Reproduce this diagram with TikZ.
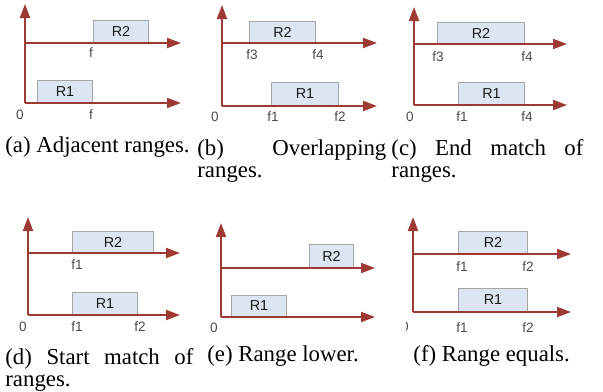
\documentclass[tikz,border=0pt]{standalone}
\usepackage{fontspec}
\setmainfont{Liberation Serif}
\newfontfamily\labelfont{Liberation Sans}
\usetikzlibrary{arrows.meta}
\definecolor{axisred}{RGB}{158,58,52}
\definecolor{boxfill}{RGB}{220,230,242}
\definecolor{boxline}{RGB}{166,166,166}

\begin{document}
\begin{tikzpicture}[x=0.5pt,y=-0.5pt,
    axis/.style={axisred,line width=1pt,-{Triangle[length=7pt,width=5pt]}},
    rangebox/.style={draw=boxline,fill=boxfill,line width=0.5pt,inner sep=0pt,
        anchor=south west,font=\labelfont\fontsize{7.2}{8}\selectfont,text=black!90},
    tick/.style={font=\labelfont\fontsize{6.8}{8}\selectfont,text=black!70,inner sep=0pt},
    subcap/.style={anchor=west,align=left,inner sep=0pt,
        font=\fontsize{11.4}{11.2}\selectfont}]
    \useasboundingbox (0,0) rectangle (603,391);
    % (a) adjacent
    \node[rangebox,minimum width=27.5pt,minimum height=11pt] (r2a) at (93,43) {R2};
    \node[rangebox,minimum width=27.5pt,minimum height=11pt] (r1a) at (37,103) {R1};
    \coordinate (oa) at (25,103);
    \coordinate (ta) at (25,4);
    \coordinate (ua) at (25,43);
    \coordinate (uea) at (181,43);
    \coordinate (lea) at (181,103);
    \draw[axis] (oa) -- (ta);
    \draw[axis] (ua) -- (uea);
    \draw[axis] (oa) -- (lea);
    \node[tick] (za) at (20,115) {0};
    \node[tick] (fa) at (91,115) {f};
    \node[tick] (fua) at (91,53) {f};
    % (b) overlapping
    \node[rangebox,minimum width=33pt,minimum height=10.5pt] (r2b) at (249,43) {R2};
    \node[rangebox,minimum width=33.5pt,minimum height=11.5pt] (r1b) at (271,106) {R1};
    \coordinate (ob) at (222,106);
    \coordinate (tb) at (222,5);
    \coordinate (ub) at (222,43);
    \coordinate (ueb) at (377,43);
    \coordinate (leb) at (377,106);
    \draw[axis] (ob) -- (tb);
    \draw[axis] (ub) -- (ueb);
    \draw[axis] (ob) -- (leb);
    \node[tick] (zb) at (215,117) {0};
    \node[tick] (f1b) at (273,117) {f1};
    \node[tick] (f2b) at (340,117) {f2};
    \node[tick] (f3b) at (252,55) {f3};
    \node[tick] (f4b) at (318,55) {f4};
    % (c) end match
    \node[rangebox,minimum width=43.5pt,minimum height=10.5pt] (r2c) at (437,44) {R2};
    \node[rangebox,minimum width=33pt,minimum height=11pt] (r1c) at (458,105) {R1};
    \coordinate (oc) at (414,105);
    \coordinate (tc) at (414,7);
    \coordinate (uc) at (414,44);
    \coordinate (uec) at (567,44);
    \coordinate (lec) at (567,105);
    \draw[axis] (oc) -- (tc);
    \draw[axis] (uc) -- (uec);
    \draw[axis] (oc) -- (lec);
    \node[tick] (zc) at (410,117) {0};
    \node[tick] (f1c) at (462,117) {f1};
    \node[tick] (f4c) at (527,117) {f4};
    \node[tick] (f3c) at (438,57) {f3};
    \node[tick] (f4uc) at (527,57) {f4};
    % (d) start match
    \node[rangebox,minimum width=40.5pt,minimum height=10.5pt] (r2d) at (72,253) {R2};
    \node[rangebox,minimum width=32.5pt,minimum height=11pt] (r1d) at (72,315) {R1};
    \coordinate (od) at (28,315);
    \coordinate (td) at (28,217);
    \coordinate (ud) at (28,253);
    \coordinate (ued) at (180,253);
    \coordinate (led) at (180,315);
    \draw[axis] (od) -- (td);
    \draw[axis] (ud) -- (ued);
    \draw[axis] (od) -- (led);
    \node[tick] (zd) at (23,327) {0};
    \node[tick] (f1d) at (77,327) {f1};
    \node[tick] (f2d) at (140,327) {f2};
    \node[tick] (f1ud) at (77,265) {f1};
    % (e) lower
    \node[rangebox,minimum width=22pt,minimum height=11.5pt] (r2e) at (309,268) {R2};
    \node[rangebox,minimum width=27.5pt,minimum height=10.5pt] (r1e) at (231,317) {R1};
    \coordinate (oe) at (221,317);
    \coordinate (te) at (221,223);
    \coordinate (ue) at (221,268);
    \coordinate (uee) at (375,268);
    \coordinate (lee) at (375,317);
    \draw[axis] (oe) -- (te);
    \draw[axis] (ue) -- (uee);
    \draw[axis] (oe) -- (lee);
    \node[tick] (ze) at (214,328) {0};
    % (f) equals
    \node[rangebox,minimum width=34.5pt,minimum height=11pt] (r2f) at (458,254) {R2};
    \node[rangebox,minimum width=34.5pt,minimum height=11.5pt] (r1f) at (458,312) {R1};
    \coordinate (of) at (413,312);
    \coordinate (tf) at (413,217);
    \coordinate (uf) at (413,254);
    \coordinate (uef) at (571,254);
    \coordinate (lef) at (571,312);
    \draw[axis] (of) -- (tf);
    \draw[axis] (uf) -- (uef);
    \draw[axis] (of) -- (lef);
    \begin{scope}
        \clip (406,315) rectangle (420,340);
        \node[tick] (zf) at (405,327) {0};
    \end{scope}
    \node[tick] (f1f) at (462,328) {f1};
    \node[tick] (f2f) at (528,328) {f2};
    \node[tick] (f1uf) at (462,267) {f1};
    \node[tick] (f2uf) at (528,267) {f2};
    % captions
    \node[subcap] (capa) at (5,147) {(a) Adjacent ranges.};
    \node[subcap,anchor=north west] (capb) at (197,139) {\makebox[94.5pt][s]{(b) Overlapping}\\ranges.};
    \node[subcap,anchor=north west] (capc) at (391,139) {\makebox[96pt][s]{(c) End match of}\\ranges.};
    \node[subcap,anchor=north west] (capd) at (5,348) {\makebox[94pt][s]{(d) Start match of}\\ranges.};
    \node[subcap] (cape) at (207,356) {(e) Range lower.};
    \node[subcap] (capf) at (413,356) {(f) Range equals.};
\end{tikzpicture}
\end{document}
